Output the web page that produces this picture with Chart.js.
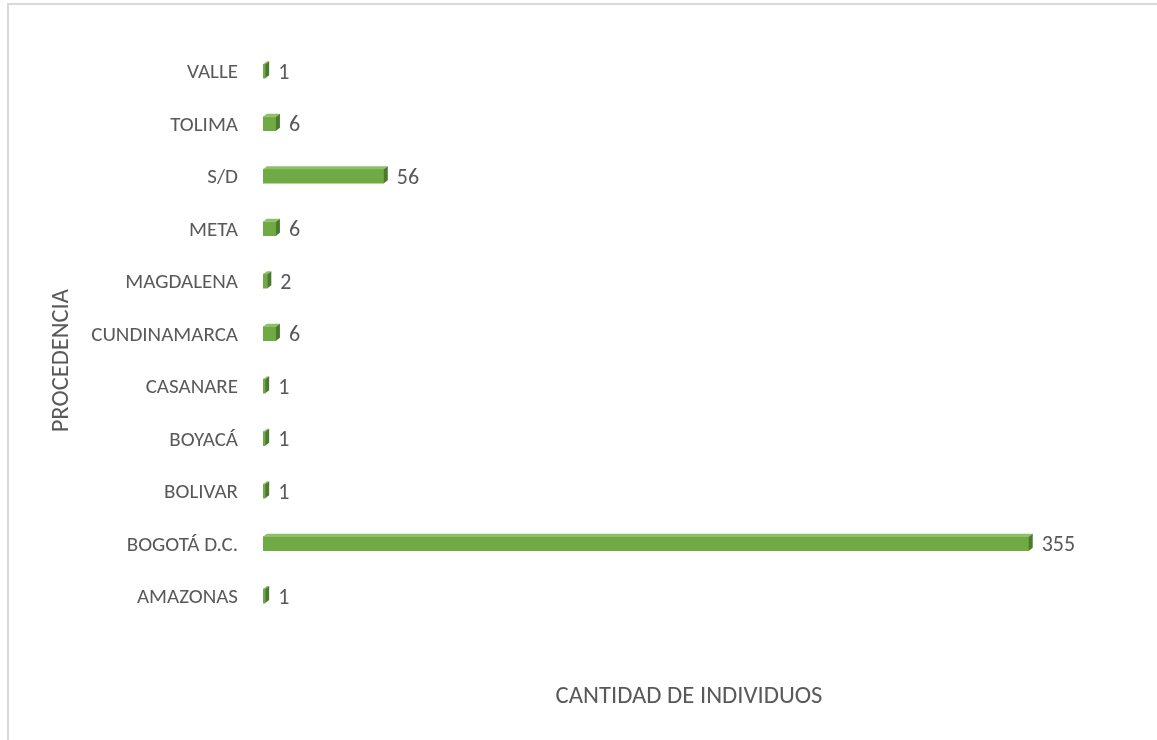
<!DOCTYPE html>
<html lang="es">
<head>
    <meta charset="UTF-8">
    <title>Procedencia</title>
    <script src="https://cdn.jsdelivr.net/npm/chart.js"></script>
    <style>
        body { margin: 0; background: #fff; }
        #frame {
            position: absolute; left: 7px; top: 3px; width: 1160px; height: 760px;
            border-left: 2px solid #d9d9d9; border-top: 2px solid #d9d9d9;
        }
        #wrap { position: absolute; left: 0; top: 0; width: 1157px; height: 740px; }
    </style>
</head>
<body>
<div id="frame"></div>
<div id="wrap"><canvas id="chart"></canvas></div>

<script>
    // Datos
    const categorias = ['VALLE', 'TOLIMA', 'S/D', 'META', 'MAGDALENA', 'CUNDINAMARCA',
        'CASANARE', 'BOYACÁ', 'BOLIVAR', 'BOGOTÁ D.C.', 'AMAZONAS'];
    const individuos = [1, 6, 56, 6, 2, 6, 1, 1, 1, 355, 1];

    const FONT = 'Carlito, Lato, sans-serif';
    const TEXT = '#595959';
    const LIFT = 2; // las barras 3D quedan un poco por encima de la etiqueta

    // Caras superior y lateral para dar efecto 3D, y etiqueta del valor
    const bar3d = {
        id: 'bar3d',
        beforeDatasetsDraw(chart) {
            chart.ctx.save();
            chart.ctx.translate(0, -LIFT);
        },
        afterDatasetsDraw(chart) {
            const ctx = chart.ctx;
            const meta = chart.getDatasetMeta(0);
            const dx = 4, dy = 3;
            meta.data.forEach((bar) => {
                const top = bar.y - bar.height / 2;
                const bottom = bar.y + bar.height / 2;
                ctx.fillStyle = '#8cc265';
                ctx.beginPath();
                ctx.moveTo(bar.base, top);
                ctx.lineTo(bar.x, top);
                ctx.lineTo(bar.x + dx, top - dy);
                ctx.lineTo(bar.base + dx, top - dy);
                ctx.closePath();
                ctx.fill();
                ctx.fillStyle = '#4c7a2d';
                ctx.beginPath();
                ctx.moveTo(bar.x, top);
                ctx.lineTo(bar.x + dx, top - dy);
                ctx.lineTo(bar.x + dx, bottom - dy);
                ctx.lineTo(bar.x, bottom);
                ctx.closePath();
                ctx.fill();
            });
            ctx.restore();

            ctx.save();
            ctx.fillStyle = TEXT;
            ctx.font = '22px ' + FONT;
            ctx.textAlign = 'left';
            ctx.textBaseline = 'middle';
            meta.data.forEach((bar, i) => {
                ctx.fillText(String(individuos[i]), bar.x + dx + 9, bar.y);
            });
            ctx.restore();
        }
    };

    // Titulo vertical, algo por debajo del centro del eje (como en Excel)
    const yTitle = {
        id: 'yTitle',
        afterDraw(chart) {
            const ctx = chart.ctx;
            const area = chart.chartArea;
            ctx.save();
            ctx.translate(62, (area.top + area.bottom) / 2 + 25);
            ctx.rotate(-Math.PI / 2);
            ctx.fillStyle = TEXT;
            ctx.font = '24.5px ' + FONT;
            ctx.textAlign = 'center';
            ctx.textBaseline = 'middle';
            ctx.fillText('PROCEDENCIA', 0, 0);
            ctx.restore();
        }
    };

    new Chart(document.getElementById('chart'), {
        type: 'bar',
        data: {
            labels: categorias,
            datasets: [{
                data: individuos,
                backgroundColor: '#6faa45',
                borderWidth: 0,
                barThickness: 14
            }]
        },
        options: {
            indexAxis: 'y',
            responsive: true,
            maintainAspectRatio: false,
            animation: false,
            layout: { padding: { left: 40, right: 42, top: 47, bottom: 0 } },
            plugins: { legend: { display: false }, tooltip: { enabled: false } },
            scales: {
                x: {
                    min: 0,
                    max: 395,
                    ticks: { display: false },
                    grid: { display: false, drawTicks: false },
                    border: { display: false },
                    title: {
                        display: true,
                        text: 'CANTIDAD DE INDIVIDUOS',
                        color: TEXT,
                        font: { family: FONT, size: 24.7 },
                        padding: { top: 58, bottom: 28 }
                    }
                },
                y: {
                    ticks: {
                        color: TEXT,
                        font: { family: FONT, size: 21 },
                        padding: 25
                    },
                    grid: { display: false, drawTicks: false },
                    border: { display: false },
                    afterFit(scale) { scale.width = 223; }
                }
            }
        },
        plugins: [bar3d, yTitle]
    });
</script>
</body>
</html>
